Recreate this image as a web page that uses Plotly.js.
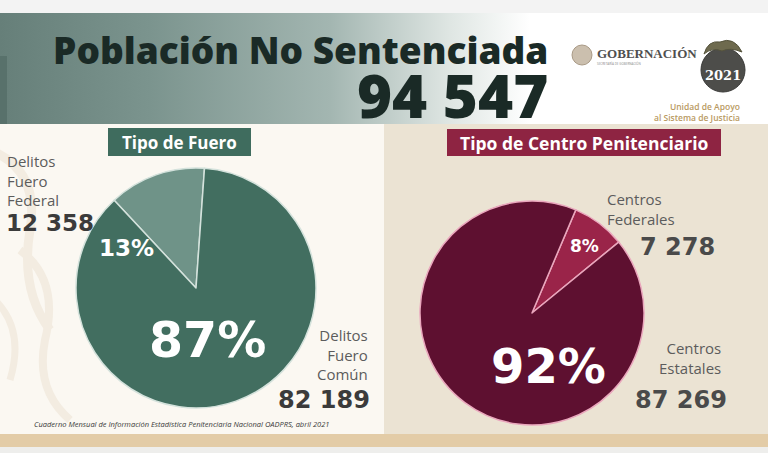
<!DOCTYPE html>
<html>
<head>
<meta charset="utf-8">
<script src="https://cdn.plot.ly/plotly-3.0.1.min.js"></script>
<style>
html,body{margin:0;padding:0;}
#chart{width:768px;height:453px;
background:
 linear-gradient(to bottom,#f3f3f3 0px,#f3f3f3 13px,transparent 13px),
 linear-gradient(to right,#667f79 0px,#7b948e 150px,#a3b6b1 330px,#dfe6e3 450px,#ffffff 530px,#ffffff 768px);}
</style>
</head>
<body>
<div id="chart"></div>
<script>
// ---- data ----
var fueroLabels = ["Delitos Fuero Federal", "Delitos Fuero Común"];
var fueroValues = [12358, 82189];
var centroLabels = ["Centros Federales", "Centros Estatales"];
var centroValues = [7278, 87269];
var totalLabel = "94 547";
var mainTitle = "Población No Sentenciada";
var leftTitle = "Tipo de Fuero";
var rightTitle = "Tipo de Centro Penitenciario";
var sourceNote = "Cuaderno Mensual de Información Estadística Penitenciaria Nacional OADPRS, abril 2021";

function fmt(n){ return String(n).replace(/\B(?=(\d{3})+(?!\d))/g, " "); }
function pct(v, arr){ var t = arr.reduce(function(a,b){return a+b;},0); return Math.round(v/t*100) + "%"; }
function br(s){ return s.split(' ').join('<br>'); }

var W = 768, H = 453;
function dom(x0,x1,y0,y1){ return {x:[x0/W,x1/W], y:[1-y1/H,1-y0/H]}; }

var traces = [
 {type:'pie', labels:fueroLabels, values:fueroValues, sort:false,
  direction:'counterclockwise', rotation:-43, textinfo:'none', hoverinfo:'label+value',
  marker:{colors:['#6f9388','#426e60'], line:{color:'#d4e2dc', width:1.5}},
  domain:dom(76,316,168,408), showlegend:false},
 {type:'pie', labels:centroLabels, values:centroValues, sort:false,
  direction:'clockwise', rotation:23, textinfo:'none', hoverinfo:'label+value',
  marker:{colors:['#9a2449','#5e1030'], line:{color:'#eaa7bd', width:1.5}},
  domain:dom(420,644,201,425), showlegend:false}
];

var F = "Open Sans, Lato, sans-serif";
var FD = "DejaVu Sans, sans-serif";
function ann(x,y,text,size,color,opts){
 var a = {x:x, y:y, xref:'x', yref:'y', text:text, showarrow:false, borderpad:0,
  font:{family:F, size:size, color:color}, xanchor:'center', yanchor:'middle'};
 if(opts){ for(var k in opts){ if(k==='weight'){a.font.weight=opts[k];} else if(k==='style'){a.font.style=opts[k];} else if(k==='ffam'){a.font.family=opts[k];} else a[k]=opts[k]; } }
 return a;
}

var shapes = [
 {type:'rect', xref:'x', yref:'y', x0:0, x1:384, y0:124, y1:434, fillcolor:'#fbf8f2', line:{width:0}, layer:'below'},
 {type:'rect', xref:'x', yref:'y', x0:384, x1:768, y0:124, y1:434, fillcolor:'#ebe3d3', line:{width:0}, layer:'below'},
 // faint watermark strokes on left panel
 {type:'path', xref:'x', yref:'y', path:'M -10 150 Q 40 170 30 230 Q 20 290 50 330', line:{color:'#f3ece1', width:9}, layer:'below'},
 {type:'path', xref:'x', yref:'y', path:'M 20 250 Q 60 280 45 340 Q 35 390 70 420', line:{color:'#f3ece1', width:8}, layer:'below'},
 {type:'path', xref:'x', yref:'y', path:'M -5 300 Q 25 330 10 380', line:{color:'#f3ece1', width:7}, layer:'below'},
 {type:'rect', xref:'x', yref:'y', x0:0, x1:768, y0:434, y1:447, fillcolor:'#e3cca7', line:{width:0}, layer:'below'},
 {type:'rect', xref:'x', yref:'y', x0:0, x1:768, y0:447, y1:453, fillcolor:'#eeeeec', line:{width:0}, layer:'below'},
 {type:'rect', xref:'x', yref:'y', x0:0, x1:7, y0:56, y1:124, fillcolor:'#58716b', line:{width:0}, layer:'below'},
 // title boxes
 {type:'rect', xref:'x', yref:'y', x0:108, x1:251, y0:128, y1:156, fillcolor:'#3f6c5e', line:{width:0}, layer:'below'},
 {type:'rect', xref:'x', yref:'y', x0:447, x1:721, y0:129, y1:156, fillcolor:'#8e2442', line:{width:0}, layer:'below'},
 // logos
 {type:'circle', xref:'x', yref:'y', x0:572, x1:592, y0:45, y1:65, fillcolor:'#cbbfae', line:{color:'#a99a86', width:1}, layer:'above'},
 {type:'circle', xref:'x', yref:'y', x0:701, x1:745, y0:48, y1:92, fillcolor:'#4d4d4a', line:{color:'#3a3a38', width:1}, layer:'above'},
 {type:'path', xref:'x', yref:'y', path:'M 704 54 Q 708 40 720 42 Q 734 36 742 52 Q 730 47 722 51 Q 712 47 704 54 Z', fillcolor:'#6e6a4e', line:{color:'#55533c', width:1}, layer:'above'}
];

var headerText = '<span style="font-size:37px">' + mainTitle + '</span><br><span style="font-size:60px">' + totalLabel + '</span>';

var annotations = [
 ann(549, 80, headerText, 41.5, '#1a2a26', {weight:800, xanchor:'right', align:'right'}),
 ann(179.5, 142, leftTitle, 17, '#ffffff', {weight:700}),
 ann(584, 143, rightTitle, 17.5, '#ffffff', {weight:700}),
 // percentages
 ann(126, 248, pct(fueroValues[0], fueroValues), 23, '#ffffff', {weight:700, ffam:FD}),
 ann(207, 340, pct(fueroValues[1], fueroValues), 49, '#ffffff', {weight:700, ffam:FD}),
 ann(584, 246, pct(centroValues[0], centroValues), 17, '#ffffff', {weight:700, ffam:FD}),
 ann(548, 366, pct(centroValues[1], centroValues), 48, '#ffffff', {weight:700, ffam:FD}),
 // values
 ann(5, 223, fmt(fueroValues[0]), 23, '#3b3b3b', {xanchor:'left', weight:700, ffam:FD}),
 ann(371, 400, fmt(fueroValues[1]), 24, '#3b3b3b', {xanchor:'right', weight:700, ffam:FD}),
 ann(639, 247, fmt(centroValues[0]), 24, '#4a4a4a', {xanchor:'left', weight:700, ffam:FD}),
 ann(728, 400, fmt(centroValues[1]), 24, '#4a4a4a', {xanchor:'right', weight:700, ffam:FD}),
 // category labels
 ann(6, 180, br(fueroLabels[0]), 15, '#5c5c5c', {xanchor:'left', align:'left'}),
 ann(369, 354, br(fueroLabels[1]), 15, '#5c5c5c', {xanchor:'right', align:'right'}),
 ann(606, 209, br(centroLabels[0]), 15, '#5c5c5c', {xanchor:'left', align:'left'}),
 ann(722, 358, br(centroLabels[1]), 15, '#5c5c5c', {xanchor:'right', align:'right'}),
 // footnote
 ann(33, 424, sourceNote, 7.5, '#3a3a3a', {xanchor:'left', style:'italic'}),
 // logos text
 ann(596, 53, 'GOBERNACIÓN', 13, '#4f4f4f', {xanchor:'left', weight:700, ffam:'Liberation Serif, serif'}),
 ann(596, 63, 'SECRETARÍA DE GOBERNACIÓN', 3, '#888888', {xanchor:'left'}),
 ann(723, 75, '2021', 13, '#ffffff', {weight:800, ffam:'DejaVu Serif, serif'}),
 ann(741, 112, 'Unidad de Apoyo<br>al Sistema de Justicia', 8.5, '#b99a62', {xanchor:'right', align:'right', weight:600})
];

var layout = {
 width:W, height:H, margin:{l:0,r:0,t:0,b:0},
 paper_bgcolor:'rgba(0,0,0,0)', plot_bgcolor:'rgba(0,0,0,0)',
 xaxis:{range:[0,W], visible:false, fixedrange:true},
 yaxis:{range:[H,0], visible:false, fixedrange:true},
 shapes:shapes, annotations:annotations, showlegend:false
};
Plotly.newPlot('chart', traces, layout, {displayModeBar:false, staticPlot:true});
</script>
</body>
</html>
